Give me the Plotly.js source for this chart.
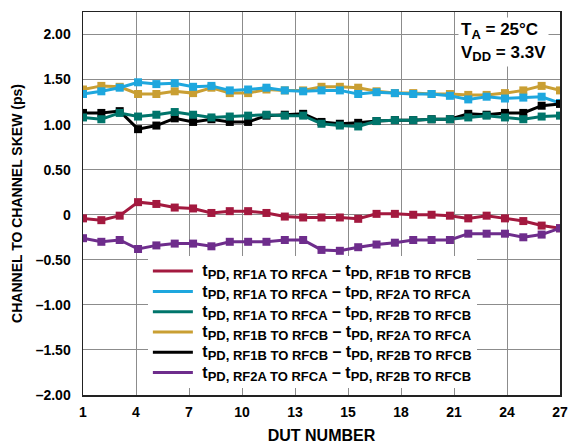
<!DOCTYPE html>
<html>
<head>
<meta charset="utf-8">
<script src="https://cdn.plot.ly/plotly-3.0.1.min.js"></script>
<style>html,body{margin:0;padding:0;background:#fff;}#chart{width:569px;height:447px;}</style>
</head>
<body>
<div id="chart"></div>
<script>
const dut = [1,2,3,4,5,6,7,8,9,10,11,12,13,14,15,16,17,18,19,20,21,22,23,24,25,26,27];

const rf1aRf1b = [-0.04,-0.06,-0.01,0.14,0.12,0.08,0.07,0.02,0.04,0.04,0.02,-0.02,-0.03,-0.03,-0.03,-0.045,0.01,0.01,0.00,0.00,-0.01,-0.04,-0.01,-0.04,-0.07,-0.12,-0.15];
const rf1aRf2a = [1.34,1.37,1.41,1.47,1.45,1.46,1.42,1.43,1.38,1.39,1.41,1.38,1.37,1.38,1.38,1.34,1.36,1.35,1.34,1.34,1.32,1.28,1.31,1.29,1.30,1.31,1.24];
const rf1aRf2b = [1.08,1.06,1.13,1.09,1.11,1.14,1.11,1.08,1.09,1.10,1.11,1.10,1.10,1.01,0.99,0.98,1.04,1.05,1.05,1.06,1.06,1.08,1.10,1.08,1.06,1.09,1.10];
const rf1bRf2a = [1.39,1.43,1.42,1.34,1.34,1.37,1.35,1.41,1.35,1.35,1.39,1.38,1.38,1.42,1.42,1.41,1.37,1.35,1.35,1.34,1.34,1.33,1.33,1.35,1.38,1.43,1.38];
const rf1bRf2b = [1.13,1.13,1.15,0.95,0.99,1.07,1.03,1.06,1.03,1.03,1.10,1.11,1.12,1.03,1.01,1.02,1.04,1.05,1.05,1.06,1.06,1.12,1.11,1.13,1.13,1.21,1.23];
const rf2aRf2b = [-0.26,-0.30,-0.28,-0.38,-0.34,-0.32,-0.32,-0.35,-0.30,-0.30,-0.30,-0.28,-0.28,-0.39,-0.40,-0.36,-0.33,-0.31,-0.28,-0.28,-0.28,-0.21,-0.21,-0.21,-0.25,-0.22,-0.15];

const subA = ["RF1A TO RFCA","RF1A TO RFCA","RF1A TO RFCA","RF1B TO RFCB","RF1B TO RFCB","RF2A TO RFCA"];
const subB = ["RF1B TO RFCB","RF2A TO RFCA","RF2B TO RFCB","RF2A TO RFCA","RF2B TO RFCB","RF2B TO RFCB"];
const seriesColors = ["#A3193F", "#1EA7DE", "#00756B", "#C99F33", "#000000", "#6E2D8C"];
const seriesData = [rf1aRf1b, rf1aRf2a, rf1aRf2b, rf1bRf2a, rf1bRf2b, rf2aRf2b];

const xTickLabels = ["1","4","7","10","13","15","18","21","24","27"];
const yTickVals = [-2,-1.5,-1,-0.5,0,0.5,1,1.5,2];
const yTickText = ["–2.00","–1.50","–1.00","–0.50","0","0.50","1.00","1.50","2.00"];

function big(s){ return "<span style='font-size:16px'>" + s + "</span>"; }
function sub(s){ return "<sub><span style='font-size:13px'>PD, " + s + "</span></sub>"; }
const seriesNames = subA.map(function(a, i){ return big(" t") + sub(a) + big(" – t") + sub(subB[i]); });

// draw order (back to front)
const drawOrder = [0, 5, 3, 1, 4, 2];
const traces = [];
drawOrder.forEach(function(i){
  traces.push({
    x: dut, y: seriesData[i], type: 'scatter', mode: 'lines+markers',
    line: {color: seriesColors[i], width: 3},
    marker: {symbol: 'square', size: 8, color: seriesColors[i]},
    showlegend: false, hoverinfo: 'skip'
  });
});
// legend entries (lines only)
seriesNames.forEach(function(n, i){
  traces.push({
    x: [null], y: [null], type: 'scatter', mode: 'lines', name: n,
    line: {color: seriesColors[i], width: 3}, showlegend: true
  });
});

const xMin = dut[0], xMax = dut[dut.length-1];
const xTickVals = xTickLabels.map(function(_, k){ return xMin + k*(xMax-xMin)/(xTickLabels.length-1); });

const layout = {
  width: 569, height: 447,
  margin: {l: 83, r: 9, t: 12, b: 52},
  paper_bgcolor: '#fff', plot_bgcolor: '#fff',
  font: {family: 'Liberation Sans, Arial, sans-serif', size: 14, color: '#000', weight: 'bold'},
  showlegend: true,
  legend: {
    x: 0.136, y: 0.363, xanchor: 'left', yanchor: 'top',
    bgcolor: '#fff', borderwidth: 0, itemwidth: 40,
    font: {size: 13.3, family: 'Liberation Sans, Arial, sans-serif', weight: 'bold'},
    tracegroupgap: 0
  },
  xaxis: {
    range: [xMin, xMax], tickvals: xTickVals, ticktext: xTickLabels,
    showgrid: true, gridcolor: '#8c8c8c', gridwidth: 1,
    showline: true, mirror: true, linecolor: '#222', linewidth: 1.5,
    ticks: '', zeroline: false, ticklabelstandoff: 4,
    tickfont: {size: 14},
    title: {text: 'DUT NUMBER', font: {size: 16}, standoff: 10}
  },
  yaxis: {
    range: [-2, 2.25], tickvals: yTickVals, ticktext: yTickText,
    showgrid: true, gridcolor: '#8c8c8c', gridwidth: 1,
    showline: true, mirror: true, linecolor: '#222', linewidth: 1.5,
    ticks: '', zeroline: false, ticklabelstandoff: 8,
    tickfont: {size: 14},
    title: {text: 'CHANNEL TO CHANNEL SKEW (ps)\u00a0\u00a0\u00a0\u00a0\u00a0\u00a0\u00a0', font: {size: 14}, standoff: 10}
  },
  annotations: [{
    xref: 'paper', yref: 'paper', x: 0.787, y: 0.988, xanchor: 'left', yanchor: 'top',
    text: "<span style='font-size:17px'>T</span><sub><span style='font-size:13px'>A</span></sub><span style='font-size:17px'> = 25°C</span><br><span style='font-size:17px'>V</span><sub><span style='font-size:13px'>DD</span></sub><span style='font-size:17px'> = 3.3V</span>",
    align: 'left', showarrow: false,
    bgcolor: '#fff', borderpad: 2, font: {size: 17.5}
  }]
};

Plotly.newPlot('chart', traces, layout, {displayModeBar: false, staticPlot: true});
</script>
</body>
</html>
